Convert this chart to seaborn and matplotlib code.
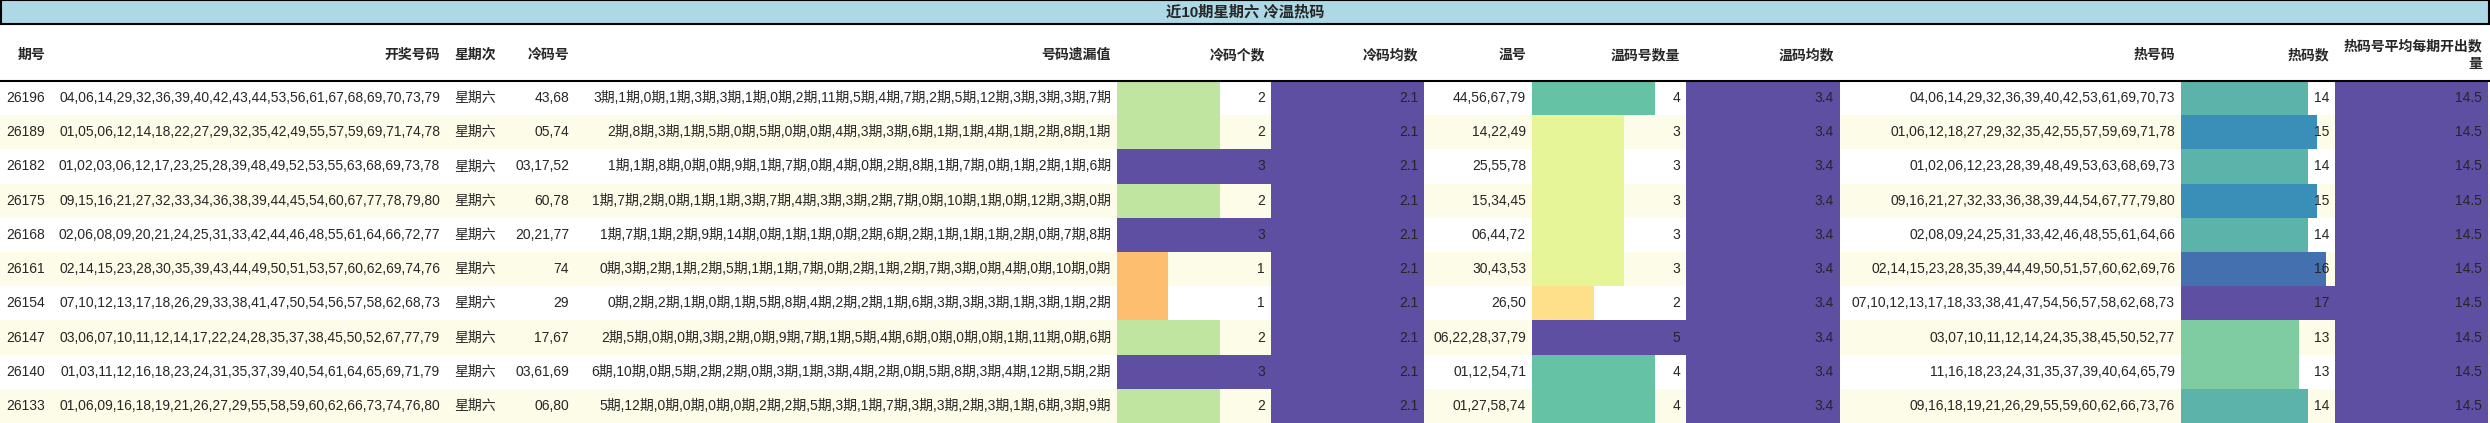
import matplotlib
matplotlib.use("Agg")
import matplotlib.pyplot as plt
import seaborn as sns

title = "近10期星期六 冷温热码"
headers = ["期号", "开奖号码", "星期次", "冷码号", "号码遗漏值", "冷码个数", "冷码均数", "温号", "温码号数量", "温码均数", "热号码", "热码数", "热码号平均每期开出数\n量"]
issues = ["26196", "26189", "26182", "26175", "26168", "26161", "26154", "26147", "26140", "26133"]
draws = ["04,06,14,29,32,36,39,40,42,43,44,53,56,61,67,68,69,70,73,79",
         "01,05,06,12,14,18,22,27,29,32,35,42,49,55,57,59,69,71,74,78",
         "01,02,03,06,12,17,23,25,28,39,48,49,52,53,55,63,68,69,73,78",
         "09,15,16,21,27,32,33,34,36,38,39,44,45,54,60,67,77,78,79,80",
         "02,06,08,09,20,21,24,25,31,33,42,44,46,48,55,61,64,66,72,77",
         "02,14,15,23,28,30,35,39,43,44,49,50,51,53,57,60,62,69,74,76",
         "07,10,12,13,17,18,26,29,33,38,41,47,50,54,56,57,58,62,68,73",
         "03,06,07,10,11,12,14,17,22,24,28,35,37,38,45,50,52,67,77,79",
         "01,03,11,12,16,18,23,24,31,35,37,39,40,54,61,64,65,69,71,79",
         "01,06,09,16,18,19,21,26,27,29,55,58,59,60,62,66,73,74,76,80"]
weekday = ["星期六"] * 10
cold = ["43,68", "05,74", "03,17,52", "60,78", "20,21,77", "74", "29", "17,67", "03,61,69", "06,80"]
miss = ["3期,1期,0期,1期,3期,3期,1期,0期,2期,11期,5期,4期,7期,2期,5期,12期,3期,3期,3期,7期",
        "2期,8期,3期,1期,5期,0期,5期,0期,0期,4期,3期,3期,6期,1期,1期,4期,1期,2期,8期,1期",
        "1期,1期,8期,0期,0期,9期,1期,7期,0期,4期,0期,2期,8期,1期,7期,0期,1期,2期,1期,6期",
        "1期,7期,2期,0期,1期,1期,3期,7期,4期,3期,3期,2期,7期,0期,10期,1期,0期,12期,3期,0期",
        "1期,7期,1期,2期,9期,14期,0期,1期,1期,0期,2期,6期,2期,1期,1期,1期,2期,0期,7期,8期",
        "0期,3期,2期,1期,2期,5期,1期,1期,7期,0期,2期,1期,2期,7期,3期,0期,4期,0期,10期,0期",
        "0期,2期,2期,1期,0期,1期,5期,8期,4期,2期,2期,1期,6期,3期,3期,3期,1期,3期,1期,2期",
        "2期,5期,0期,0期,3期,2期,0期,9期,7期,1期,5期,4期,6期,0期,0期,0期,1期,11期,0期,6期",
        "6期,10期,0期,5期,2期,2期,0期,3期,1期,3期,4期,2期,0期,5期,8期,3期,4期,12期,5期,2期",
        "5期,12期,0期,0期,0期,0期,2期,2期,5期,3期,1期,7期,3期,3期,2期,3期,1期,6期,3期,9期"]
cold_cnt = [2, 2, 3, 2, 3, 1, 1, 2, 3, 2]
cold_avg = [2.1] * 10
warm = ["44,56,67,79", "14,22,49", "25,55,78", "15,34,45", "06,44,72", "30,43,53", "26,50", "06,22,28,37,79", "01,12,54,71", "01,27,58,74"]
warm_cnt = [4, 3, 3, 3, 3, 3, 2, 5, 4, 4]
warm_avg = [3.4] * 10
hot = ["04,06,14,29,32,36,39,40,42,53,61,69,70,73",
       "01,06,12,18,27,29,32,35,42,55,57,59,69,71,78",
       "01,02,06,12,23,28,39,48,49,53,63,68,69,73",
       "09,16,21,27,32,33,36,38,39,44,54,67,77,79,80",
       "02,08,09,24,25,31,33,42,46,48,55,61,64,66",
       "02,14,15,23,28,35,39,44,49,50,51,57,60,62,69,76",
       "07,10,12,13,17,18,33,38,41,47,54,56,57,58,62,68,73",
       "03,07,10,11,12,14,24,35,38,45,50,52,77",
       "11,16,18,23,24,31,35,37,39,40,64,65,79",
       "09,16,18,19,21,26,29,55,59,60,62,66,73,76"]
hot_cnt = [14, 15, 14, 15, 14, 16, 17, 13, 13, 14]
hot_avg = [14.5] * 10

sns.set_theme(style="white")
plt.rcParams['font.family'] = ['Liberation Sans', 'Noto Sans CJK SC', 'DejaVu Sans']

W, H = 2490, 423
fig = plt.figure(figsize=(W / 100, H / 100), dpi=100)
ax = fig.add_axes([0, 0, 1, 1])
ax.set_xlim(0, W)
ax.set_ylim(H, 0)
ax.axis("off")

edges = [0, 55, 446, 502, 575, 1117, 1271, 1424, 1532, 1686, 1840, 2181, 2335, 2488]
title_h, head_h, row_h = 25, 56, 34.2
top = title_h + head_h

PURPLE = "#5e4fa2"
cold_col = {1: "#fdbf6f", 2: "#bfe5a0", 3: PURPLE}
warm_col = {2: "#fee08b", 3: "#e6f598", 4: "#66c2a5", 5: PURPLE}
hot_col = {13: "#7fcca3", 14: "#5bb3a9", 15: "#3a8fb9", 16: "#4470b0", 17: PURPLE}

# title bar
ax.barh([title_h / 2], [W - 2], left=1, height=title_h - 1, color="#add8e6", edgecolor="black", linewidth=1.5)
ax.text(W / 2, title_h / 2, title, ha="center", va="center", fontsize=11, fontweight="bold")

# headers
for i, h in enumerate(headers):
    x1 = edges[i + 1] - 6
    if i == 0:
        ax.text(18, title_h + head_h / 2 + 2, h, ha="left", va="center", fontsize=10, fontweight="bold")
    else:
        ax.text(x1, title_h + head_h / 2 + 2, h, ha="right", va="center", fontsize=10, fontweight="bold", linespacing=1.3)
ax.plot([0, W], [top, top], color="black", lw=1.5)

ys = [top + row_h * (r + 0.5) for r in range(len(issues))]
bgs = ["white" if r % 2 == 0 else "#fdfce8" for r in range(len(issues))]
ax.barh(ys, [W] * len(ys), left=0, height=row_h, color=bgs, linewidth=0)

def bar_col(ci, vals, cmap, vmax):
    x0, x1 = edges[ci], edges[ci + 1]
    widths = [(x1 - x0) * v / vmax for v in vals]
    ax.barh(ys, widths, left=x0, height=row_h, color=[cmap[v] for v in vals], linewidth=0)

def full_col(ci):
    x0, x1 = edges[ci], edges[ci + 1]
    ax.barh(ys, [x1 - x0] * len(ys), left=x0, height=row_h, color=PURPLE, linewidth=0)

bar_col(5, cold_cnt, cold_col, max(cold_cnt))
full_col(6)
bar_col(8, warm_cnt, warm_col, max(warm_cnt))
full_col(9)
bar_col(11, hot_cnt, hot_col, max(hot_cnt))
full_col(12)

cols = [issues, draws, weekday, cold, miss, cold_cnt, cold_avg, warm, warm_cnt, warm_avg, hot, hot_cnt, hot_avg]
for ci, col in enumerate(cols):
    for r, v in enumerate(col):
        if ci == 0:
            ax.text(6, ys[r], v, ha="left", va="center", fontsize=10)
        else:
            ax.text(edges[ci + 1] - 6, ys[r], str(v), ha="right", va="center", fontsize=10)

fig.savefig("out.png", dpi=100)
